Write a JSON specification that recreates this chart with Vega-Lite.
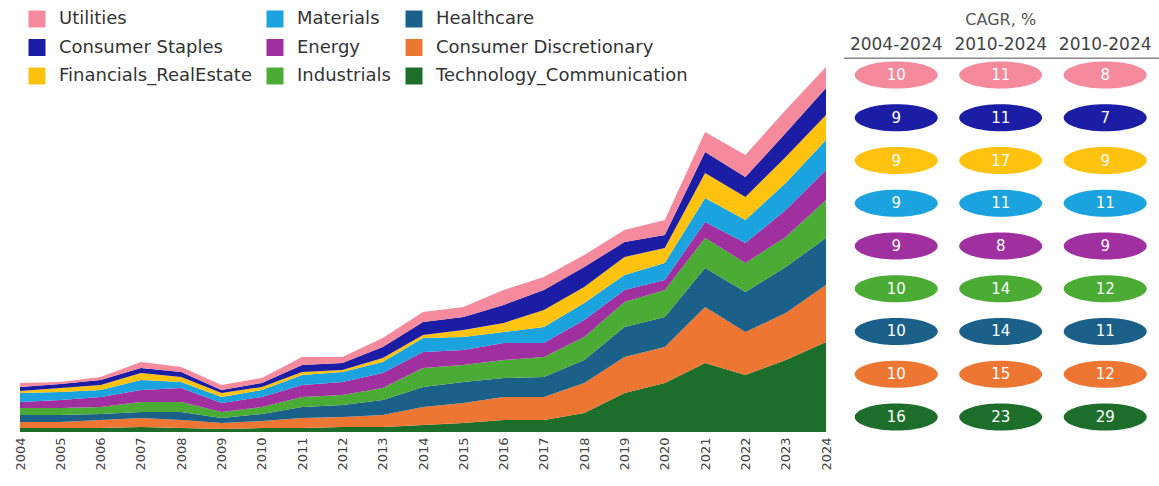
{
  "$schema": "https://vega.github.io/schema/vega-lite/v6.json",
  "background": "white",
  "padding": {"left": 14, "top": 7, "right": 2, "bottom": 5},
  "config": {"view": {"stroke": null}, "font": "DejaVu Sans"},
  "spacing": 10,
  "resolve": {"scale": {"color": "independent"}},
  "hconcat": [
    {
      "width": 806,
      "height": 425,
      "data": {"values": [
        {"year": 2004, "Technology_Communication": 4, "Consumer Discretionary": 6, "Healthcare": 7, "Industrials": 7, "Energy": 6, "Materials": 9, "Financials_RealEstate": 2, "Consumer Staples": 4, "Utilities": 4},
        {"year": 2005, "Technology_Communication": 4, "Consumer Discretionary": 6, "Healthcare": 7, "Industrials": 7, "Energy": 8, "Materials": 8, "Financials_RealEstate": 4, "Consumer Staples": 4, "Utilities": 2},
        {"year": 2006, "Technology_Communication": 4, "Consumer Discretionary": 8, "Healthcare": 6, "Industrials": 7, "Energy": 10, "Materials": 7, "Financials_RealEstate": 5, "Consumer Staples": 5, "Utilities": 3},
        {"year": 2007, "Technology_Communication": 5, "Consumer Discretionary": 9, "Healthcare": 6, "Industrials": 10, "Energy": 12, "Materials": 10, "Financials_RealEstate": 7, "Consumer Staples": 5, "Utilities": 6},
        {"year": 2008, "Technology_Communication": 4, "Consumer Discretionary": 8, "Healthcare": 8, "Industrials": 10, "Energy": 14, "Materials": 6, "Financials_RealEstate": 5, "Consumer Staples": 5, "Utilities": 5},
        {"year": 2009, "Technology_Communication": 3, "Consumer Discretionary": 6, "Healthcare": 5, "Industrials": 6, "Energy": 9, "Materials": 6, "Financials_RealEstate": 4, "Consumer Staples": 3, "Utilities": 5},
        {"year": 2010, "Technology_Communication": 4, "Consumer Discretionary": 7, "Healthcare": 7, "Industrials": 7, "Energy": 10, "Materials": 7, "Financials_RealEstate": 3, "Consumer Staples": 4, "Utilities": 5},
        {"year": 2011, "Technology_Communication": 4, "Consumer Discretionary": 10, "Healthcare": 11, "Industrials": 10, "Energy": 12, "Materials": 10, "Financials_RealEstate": 3, "Consumer Staples": 7, "Utilities": 8},
        {"year": 2012, "Technology_Communication": 5, "Consumer Discretionary": 10, "Healthcare": 12, "Industrials": 10, "Energy": 13, "Materials": 10, "Financials_RealEstate": 2, "Consumer Staples": 7, "Utilities": 6},
        {"year": 2013, "Technology_Communication": 5, "Consumer Discretionary": 12, "Healthcare": 15, "Industrials": 12, "Energy": 15, "Materials": 11, "Financials_RealEstate": 4, "Consumer Staples": 11, "Utilities": 9},
        {"year": 2014, "Technology_Communication": 7, "Consumer Discretionary": 18, "Healthcare": 20, "Industrials": 19, "Energy": 16, "Materials": 14, "Financials_RealEstate": 3, "Consumer Staples": 13, "Utilities": 10},
        {"year": 2015, "Technology_Communication": 9, "Consumer Discretionary": 20, "Healthcare": 21, "Industrials": 17, "Energy": 15, "Materials": 13, "Financials_RealEstate": 7, "Consumer Staples": 13, "Utilities": 10},
        {"year": 2016, "Technology_Communication": 12, "Consumer Discretionary": 23, "Healthcare": 19, "Industrials": 18, "Energy": 17, "Materials": 11, "Financials_RealEstate": 9, "Consumer Staples": 18, "Utilities": 15},
        {"year": 2017, "Technology_Communication": 12, "Consumer Discretionary": 23, "Healthcare": 20, "Industrials": 20, "Energy": 14, "Materials": 16, "Financials_RealEstate": 17, "Consumer Staples": 20, "Utilities": 13},
        {"year": 2018, "Technology_Communication": 19, "Consumer Discretionary": 30, "Healthcare": 23, "Industrials": 23, "Energy": 17, "Materials": 17, "Financials_RealEstate": 16, "Consumer Staples": 20, "Utilities": 12},
        {"year": 2019, "Technology_Communication": 39, "Consumer Discretionary": 36, "Healthcare": 30, "Industrials": 25, "Energy": 12, "Materials": 15, "Financials_RealEstate": 18, "Consumer Staples": 15, "Utilities": 12},
        {"year": 2020, "Technology_Communication": 49, "Consumer Discretionary": 36, "Healthcare": 30, "Industrials": 27, "Energy": 10, "Materials": 17, "Financials_RealEstate": 15, "Consumer Staples": 13, "Utilities": 15},
        {"year": 2021, "Technology_Communication": 69, "Consumer Discretionary": 56, "Healthcare": 39, "Industrials": 30, "Energy": 16, "Materials": 24, "Financials_RealEstate": 25, "Consumer Staples": 21, "Utilities": 20},
        {"year": 2022, "Technology_Communication": 57, "Consumer Discretionary": 43, "Healthcare": 40, "Industrials": 29, "Energy": 20, "Materials": 23, "Financials_RealEstate": 23, "Consumer Staples": 20, "Utilities": 22},
        {"year": 2023, "Technology_Communication": 72, "Consumer Discretionary": 47, "Healthcare": 46, "Industrials": 30, "Energy": 27, "Materials": 27, "Financials_RealEstate": 26, "Consumer Staples": 24, "Utilities": 23},
        {"year": 2024, "Technology_Communication": 90, "Consumer Discretionary": 57, "Healthcare": 47, "Industrials": 38, "Energy": 30, "Materials": 30, "Financials_RealEstate": 25, "Consumer Staples": 27, "Utilities": 21}
      ]},
      "transform": [
        {"fold": ["Technology_Communication", "Consumer Discretionary", "Healthcare", "Industrials", "Energy", "Materials", "Financials_RealEstate", "Consumer Staples", "Utilities"], "as": ["sector", "value"]},
        {"lookup": "sector", "from": {"data": {"values": [
          {"sector": "Technology_Communication", "rank": 1},
          {"sector": "Consumer Discretionary", "rank": 2},
          {"sector": "Healthcare", "rank": 3},
          {"sector": "Industrials", "rank": 4},
          {"sector": "Energy", "rank": 5},
          {"sector": "Materials", "rank": 6},
          {"sector": "Financials_RealEstate", "rank": 7},
          {"sector": "Consumer Staples", "rank": 8},
          {"sector": "Utilities", "rank": 9}
        ]}, "key": "sector", "fields": ["rank"]}}
      ],
      "mark": {"type": "area", "interpolate": "linear"},
      "encoding": {
        "x": {
          "field": "year", "type": "quantitative",
          "scale": {"domain": [2004, 2024], "nice": false, "zero": false},
          "axis": {
            "values": [2004, 2005, 2006, 2007, 2008, 2009, 2010, 2011, 2012, 2013, 2014, 2015, 2016, 2017, 2018, 2019, 2020, 2021, 2022, 2023, 2024],
            "format": "d", "labelAngle": 270, "labelAlign": "right", "labelBaseline": "middle",
            "labelFontSize": 13, "labelColor": "#444", "labelPadding": 5,
            "domain": false, "ticks": false, "grid": false, "title": null, "labelOverlap": false, "labelBound": false, "labelFlush": false
          }
        },
        "y": {"field": "value", "type": "quantitative", "stack": "zero", "scale": {"domain": [0, 425], "nice": false}, "axis": null},
        "color": {
          "field": "sector", "type": "nominal",
          "scale": {
            "domain": ["Utilities", "Consumer Staples", "Financials_RealEstate", "Materials", "Energy", "Industrials", "Healthcare", "Consumer Discretionary", "Technology_Communication"],
            "range": ["#F48A9B", "#1B1DA5", "#FFC20E", "#1AA3DF", "#A02FA0", "#4AAB35", "#1A6089", "#EE7633", "#1E6E2B"]
          },
          "legend": {
            "orient": "none", "legendX": 8, "legendY": 3, "columns": 3, "title": null,
            "symbolType": "square", "symbolSize": 289, "symbolStrokeWidth": 0, "symbolOpacity": 1,
            "labelFontSize": 18, "labelColor": "#333", "labelOffset": 13, "labelLimit": 400,
            "rowPadding": 10.5, "columnPadding": 14, "padding": 0
          }
        },
        "order": {"field": "rank", "type": "quantitative"}
      }
    },
    {
      "width": 315,
      "height": 425,
      "layer": [
        {
          "data": {"values": [{"row": 0, "col": 2, "label": "CAGR, %"}]},
          "mark": {"type": "text", "dy": -12, "fontSize": 16, "color": "#555"},
          "encoding": {
            "x": {"field": "col", "type": "quantitative", "scale": {"domain": [0.5, 3.515], "nice": false, "zero": false}, "axis": null},
            "y": {"field": "row", "type": "quantitative", "scale": {"domain": [-0.591, 9.351], "nice": false, "zero": false, "reverse": true}, "axis": null},
            "text": {"field": "label"}
          }
        },
        {
          "data": {"values": [
            {"row": 0, "col": 1, "label": "2004-2024"},
            {"row": 0, "col": 2, "label": "2010-2024"},
            {"row": 0, "col": 3, "label": "2010-2024"}
          ]},
          "mark": {"type": "text", "dy": 13, "fontSize": 17, "color": "#444"},
          "encoding": {
            "x": {"field": "col", "type": "quantitative", "scale": {"domain": [0.5, 3.515], "nice": false, "zero": false}, "axis": null},
            "y": {"field": "row", "type": "quantitative", "scale": {"domain": [-0.591, 9.351], "nice": false, "zero": false, "reverse": true}, "axis": null},
            "text": {"field": "label"}
          }
        },
        {
          "data": {"values": [{"row": 0}]},
          "mark": {"type": "rule", "yOffset": 26, "color": "#888", "strokeWidth": 1.5},
          "encoding": {
            "y": {"field": "row", "type": "quantitative", "scale": {"domain": [-0.591, 9.351], "nice": false, "zero": false, "reverse": true}, "axis": null}
          }
        },
        {
          "data": {"name": "cagr", "values": [
            {"sector": "Utilities", "row": 1, "col": 1, "value": 10},
            {"sector": "Utilities", "row": 1, "col": 2, "value": 11},
            {"sector": "Utilities", "row": 1, "col": 3, "value": 8},
            {"sector": "Consumer Staples", "row": 2, "col": 1, "value": 9},
            {"sector": "Consumer Staples", "row": 2, "col": 2, "value": 11},
            {"sector": "Consumer Staples", "row": 2, "col": 3, "value": 7},
            {"sector": "Financials_RealEstate", "row": 3, "col": 1, "value": 9},
            {"sector": "Financials_RealEstate", "row": 3, "col": 2, "value": 17},
            {"sector": "Financials_RealEstate", "row": 3, "col": 3, "value": 9},
            {"sector": "Materials", "row": 4, "col": 1, "value": 9},
            {"sector": "Materials", "row": 4, "col": 2, "value": 11},
            {"sector": "Materials", "row": 4, "col": 3, "value": 11},
            {"sector": "Energy", "row": 5, "col": 1, "value": 9},
            {"sector": "Energy", "row": 5, "col": 2, "value": 8},
            {"sector": "Energy", "row": 5, "col": 3, "value": 9},
            {"sector": "Industrials", "row": 6, "col": 1, "value": 10},
            {"sector": "Industrials", "row": 6, "col": 2, "value": 14},
            {"sector": "Industrials", "row": 6, "col": 3, "value": 12},
            {"sector": "Healthcare", "row": 7, "col": 1, "value": 10},
            {"sector": "Healthcare", "row": 7, "col": 2, "value": 14},
            {"sector": "Healthcare", "row": 7, "col": 3, "value": 11},
            {"sector": "Consumer Discretionary", "row": 8, "col": 1, "value": 10},
            {"sector": "Consumer Discretionary", "row": 8, "col": 2, "value": 15},
            {"sector": "Consumer Discretionary", "row": 8, "col": 3, "value": 12},
            {"sector": "Technology_Communication", "row": 9, "col": 1, "value": 16},
            {"sector": "Technology_Communication", "row": 9, "col": 2, "value": 23},
            {"sector": "Technology_Communication", "row": 9, "col": 3, "value": 29}
          ]},
          "layer": [
            {
              "mark": {"type": "point", "filled": true, "opacity": 1, "strokeWidth": 0, "size": 6889,
                "shape": "M-1,0C-1,-0.18 -0.552,-0.325 0,-0.325C0.552,-0.325 1,-0.18 1,0C1,0.18 0.552,0.325 0,0.325C-0.552,0.325 -1,0.18 -1,0Z"},
              "encoding": {
                "x": {"field": "col", "type": "quantitative", "scale": {"domain": [0.5, 3.515], "nice": false, "zero": false}, "axis": null},
                "y": {"field": "row", "type": "quantitative", "scale": {"domain": [-0.591, 9.351], "nice": false, "zero": false, "reverse": true}, "axis": null},
                "color": {
                  "field": "sector", "type": "nominal",
                  "scale": {
                    "domain": ["Utilities", "Consumer Staples", "Financials_RealEstate", "Materials", "Energy", "Industrials", "Healthcare", "Consumer Discretionary", "Technology_Communication"],
                    "range": ["#F48A9B", "#1B1DA5", "#FFC20E", "#1AA3DF", "#A02FA0", "#4AAB35", "#1A6089", "#EE7633", "#1E6E2B"]
                  },
                  "legend": null
                }
              }
            },
            {
              "mark": {"type": "text", "fontSize": 15, "color": "white"},
              "encoding": {
                "x": {"field": "col", "type": "quantitative", "scale": {"domain": [0.5, 3.515], "nice": false, "zero": false}, "axis": null},
                "y": {"field": "row", "type": "quantitative", "scale": {"domain": [-0.591, 9.351], "nice": false, "zero": false, "reverse": true}, "axis": null},
                "text": {"field": "value"}
              }
            }
          ]
        }
      ]
    }
  ]
}
